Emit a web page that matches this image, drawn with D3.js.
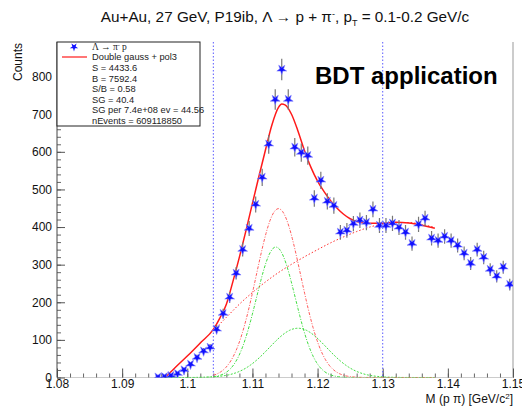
<!DOCTYPE html>
<html><head><meta charset="utf-8">
<script src="https://cdn.jsdelivr.net/npm/d3@7"></script>
<style>
html,body{margin:0;padding:0;background:#fff;}
svg{display:block;font-family:"Liberation Sans",Arial,sans-serif;}
</style></head>
<body><svg id="c" width="522" height="409"></svg>
<script>
// ---- data ----
const binCenters = [1.0955,1.0965,1.0975,1.0985,1.0995,1.1005,1.1015,1.1025,1.1035,1.1045,
 1.1055,1.1065,1.1075,1.1085,1.1095,1.1105,1.1115,1.1125,1.1135,1.1145,
 1.1155,1.1165,1.1175,1.1185,1.1195,1.1205,1.1215,1.1225,1.1235,1.1245,
 1.1255,1.1265,1.1275,1.1285,1.1295,1.1305,1.1315,1.1325,1.1335,1.1345,
 1.1355,1.1365,1.1375,1.1385,1.1395,1.1405,1.1415,1.1425,1.1435,1.1445,
 1.1455,1.1465,1.1475,1.1485,1.1495];
const counts = [1,2,5,10,20,35,53,70,80,128,
 170,213,277,340,396,460,532,620,739,819,
 739,612,598,590,476,524,468,457,386,391,
 409,418,412,447,404,404,410,399,386,356,
 407,423,370,364,375,364,351,330,303,340,
 319,287,269,293,247];
// total fit (Double gauss + pol3)
const fitX = [1.0966,1.098,1.100,1.102,1.104,1.105,1.106,1.107,1.108,1.109,1.110,1.111,1.112,1.113,1.114,1.1145,1.115,1.116,1.117,1.118,1.119,1.120,1.121,1.122,1.123,1.124,1.125,1.126,1.128,1.130,1.132,1.134,1.136,1.138];
const fitY = [0,24,57,92,128,158,195,255,320,390,463,535,605,672,718,727,725,700,655,603,558,522,494,470,450,434,422,415,410,410,413,411,405,397];
// background pol3 component
const bgX = [1.104,1.106,1.108,1.110,1.112,1.114,1.116,1.118,1.120,1.122,1.124,1.126,1.128,1.130,1.132,1.134,1.136,1.138];
const bgY = [125,160,195,226,254,279,301,321,340,358,374,388,400,408,412,412,407,399];
// gaussian components: [amplitude, mean, sigma, from, to]
const sigSumGauss = [449, 1.1140, 0.0034, 1.104, 1.138];
const narrowGauss = [347, 1.1136, 0.0030, 1.0965, 1.138];
const wideGauss   = [131, 1.1170, 0.0044, 1.0965, 1.138];
const xTicks = [1.08,1.09,1.10,1.11,1.12,1.13,1.14,1.15];
const xTickLabels = ["1.08","1.09","1.1","1.11","1.12","1.13","1.14","1.15"];
const yTicks = [0,100,200,300,400,500,600,700,800];
const cutLines = [1.104, 1.130];
const legendLines = ["S = 4433.6","B = 7592.4","S/B = 0.58","SG = 40.4","SG per 7.4e+08 ev = 44.56","nEvents = 609118850"];

// ---- layout ----
const L=57, R=513, T=42, B=377.5;
const svg = d3.select("#c");
const x = d3.scaleLinear().domain([1.08,1.15]).range([L,R]);
const y = d3.scaleLinear().domain([0,892]).range([B,T]);

svg.append("defs").append("clipPath").attr("id","clip")
  .append("rect").attr("x",L).attr("y",T).attr("width",R-L).attr("height",B-T);

// frame right line
svg.append("line").attr("x1",R).attr("x2",R).attr("y1",T).attr("y2",B).attr("stroke","#999").attr("stroke-width",1);
// bottom baseline
svg.append("line").attr("x1",L).attr("x2",R).attr("y1",B).attr("y2",B).attr("stroke","#ccc").attr("stroke-width",1);

// axes
const xMinor = d3.range(0,36).map(i=>1.08+i*0.002);
svg.append("g").attr("transform",`translate(0,${B})`)
  .call(d3.axisBottom(x).tickValues(xMinor).tickSize(-4).tickFormat(""))
  .call(g=>{g.select(".domain").remove(); g.selectAll("line").attr("stroke","#666");});
svg.append("g").attr("transform",`translate(0,${B})`)
  .call(d3.axisBottom(x).tickValues(xTicks).tickSize(-9).tickFormat((d,i)=>xTickLabels[i]))
  .call(g=>{g.select(".domain").remove(); g.selectAll("line").attr("stroke","#555");
    g.selectAll("text").attr("font-size",12).attr("fill","#111").attr("font-family","Liberation Sans, Arial, sans-serif").attr("y",1.5).attr("dy","0.71em");});

const yMinor = d3.range(0,45).map(i=>i*20);
svg.append("g").attr("transform",`translate(${L},0)`)
  .call(d3.axisLeft(y).tickValues(yMinor).tickSize(-4).tickFormat(""))
  .call(g=>{g.select(".domain").remove(); g.selectAll("line").attr("stroke","#666");});
svg.append("g").attr("transform",`translate(${L},0)`)
  .call(d3.axisLeft(y).tickValues(yTicks).tickSize(-8).tickFormat(d3.format("d")))
  .call(g=>{g.select(".domain").remove(); g.selectAll("line").attr("stroke","#555");
    g.selectAll("text").attr("font-size",12).attr("fill","#111").attr("font-family","Liberation Sans, Arial, sans-serif").attr("x",-5);});
svg.append("line").attr("x1",L).attr("x2",L).attr("y1",T).attr("y2",B).attr("stroke","#444");

// cut lines
svg.selectAll(".cut").data(cutLines).join("line")
  .attr("x1",d=>x(d)).attr("x2",d=>x(d)).attr("y1",T).attr("y2",B)
  .attr("stroke","#5b5bff").attr("stroke-width",1).attr("stroke-dasharray","1.5,2");

const plot = svg.append("g").attr("clip-path","url(#clip)");
const gaussPts = p => d3.range(0,161).map(i=>{const xv=p[3]+(p[4]-p[3])*i/160; return [xv, p[0]*Math.exp(-((xv-p[1])**2)/(2*p[2]*p[2]))];});
const line = d3.line().x(d=>x(d[0])).y(d=>y(d[1]));

plot.append("path").datum(gaussPts(wideGauss)).attr("d",line).attr("fill","none")
  .attr("stroke","#3fdc3f").attr("stroke-width",1).attr("stroke-dasharray","2,1.5");
plot.append("path").datum(gaussPts(narrowGauss)).attr("d",line).attr("fill","none")
  .attr("stroke","#3fdc3f").attr("stroke-width",1).attr("stroke-dasharray","3,1.5,1,1.5");
plot.append("path").datum(gaussPts(sigSumGauss)).attr("d",line).attr("fill","none")
  .attr("stroke","#ff5a5a").attr("stroke-width",1).attr("stroke-dasharray","3,1.5,1,1.5");
plot.append("path").datum(bgX.map((d,i)=>[d,bgY[i]])).attr("d",d3.line().x(d=>x(d[0])).y(d=>y(d[1])).curve(d3.curveMonotoneX)).attr("fill","none")
  .attr("stroke","#ff3030").attr("stroke-width",1).attr("stroke-dasharray","1.5,2");
plot.append("path").datum(fitX.map((d,i)=>[d,fitY[i]])).attr("d",d3.line().x(d=>x(d[0])).y(d=>y(d[1])).curve(d3.curveMonotoneX)).attr("fill","none")
  .attr("stroke","#ff1a1a").attr("stroke-width",1.5);

// data points
const pts = binCenters.map((d,i)=>({x:d,y:counts[i]}));
plot.selectAll(".eb").data(pts).join("line")
  .attr("x1",d=>x(d.x)).attr("x2",d=>x(d.x))
  .attr("y1",d=>y(d.y+Math.sqrt(d.y))).attr("y2",d=>y(Math.max(0,d.y-Math.sqrt(d.y))))
  .attr("stroke","#777").attr("stroke-width",1.2);
const star = d3.symbol(d3.symbolStar).size(30);
plot.selectAll(".pt").data(pts).join("path")
  .attr("d",star).attr("transform",d=>`translate(${x(d.x)},${y(d.y)}) rotate(180)`)
  .attr("fill","#1010ff").attr("stroke","#8080ff").attr("stroke-width",0.6);

// legend
const lg = svg.append("g");
lg.append("rect").attr("x",L).attr("y",T).attr("width",143).attr("height",84).attr("fill","#fff").attr("stroke","#222").attr("stroke-width",1);
lg.append("path").attr("d",d3.symbol(d3.symbolStar).size(22)).attr("transform","translate(74,47) rotate(180)").attr("fill","#1010ff");
const lt1 = lg.append("text").attr("x",92).attr("y",50).attr("font-size",9.5).attr("font-family","Liberation Serif, serif").attr("fill","#222");
lt1.append("tspan").text("Λ → π");
lt1.append("tspan").attr("dy",-3).attr("font-size",6).text("-");
lt1.append("tspan").attr("dy",3).text(" p");
lg.append("line").attr("x1",62).attr("x2",87).attr("y1",57).attr("y2",57).attr("stroke","#ff1a1a").attr("stroke-width",1.2);
lg.append("text").attr("x",92).attr("y",60).attr("font-size",9.3).attr("fill","#222").text("Double gauss + pol3");
lg.selectAll(".lt").data(legendLines).join("text")
  .attr("x",92).attr("y",(d,i)=>71+i*10.5).attr("font-size",9.3).attr("fill","#222").text(d=>d);

// title
const tt = svg.append("text").attr("x",285).attr("y",22).attr("text-anchor","middle").attr("font-size",15.3).attr("fill","#111");
tt.append("tspan").text("Au+Au, 27 GeV, P19ib,  Λ → p + π");
tt.append("tspan").attr("dy",-5).attr("font-size",9).text("-");
tt.append("tspan").attr("dy",5).text(", p");
tt.append("tspan").attr("dy",4).attr("font-size",9).text("T");
tt.append("tspan").attr("dy",-4).text(" = 0.1-0.2 GeV/c");

// axis titles
svg.append("text").attr("transform","translate(22,43) rotate(-90)").attr("text-anchor","end")
  .attr("font-size",12).attr("fill","#111").text("Counts");
const xt = svg.append("text").attr("x",R).attr("y",403).attr("text-anchor","end").attr("font-size",12).attr("fill","#111");
xt.append("tspan").text("M (p π) [GeV/c");
xt.append("tspan").attr("dy",-4).attr("font-size",8).text("2");
xt.append("tspan").attr("dy",4).text("]");

// annotation
svg.append("text").attr("x",315).attr("y",84).attr("font-size",24).attr("font-weight","bold")
  .attr("font-family","Liberation Sans, Arial, sans-serif").attr("fill","#000").text("BDT application");
</script></body></html>
